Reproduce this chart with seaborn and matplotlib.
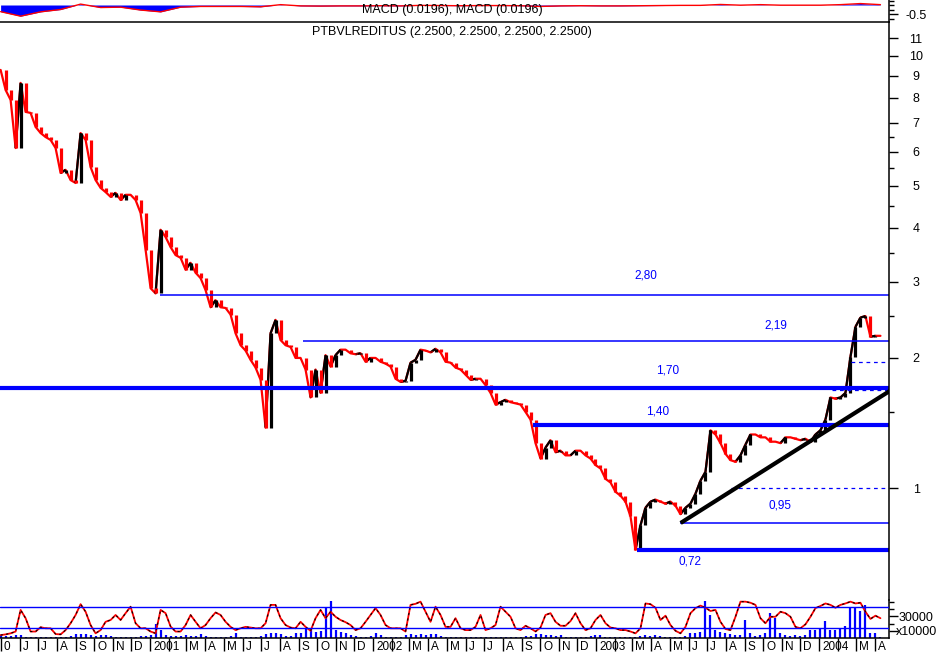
import numpy as np
import pandas as pd
import matplotlib
matplotlib.use("Agg")
import matplotlib.pyplot as plt
import matplotlib.dates as mdates
from matplotlib.collections import LineCollection
from matplotlib.ticker import NullFormatter
import seaborn as sns

# ---------------- data ----------------
ticker = "PTBVLREDITUS"
first_date, last_date = "2000-05-01", "2004-04-10"

price = [
    9.28, 8.34, 7.91, 6.12, 8.66, 7.42, 7.38, 6.85, 6.63, 6.49,
    6.39, 6.12, 5.36, 5.45, 5.16, 5.08, 6.63, 6.39, 5.53, 5.16,
    4.95, 4.84, 4.72, 4.82, 4.64, 4.77, 4.77, 4.64, 4.33, 3.56,
    2.90, 2.82, 3.96, 3.81, 3.61, 3.46, 3.41, 3.20, 3.32, 3.15,
    3.06, 2.87, 2.62, 2.72, 2.62, 2.61, 2.52, 2.28, 2.14, 2.08,
    1.98, 1.90, 1.78, 1.38, 2.28, 2.45, 2.20, 2.14, 2.12, 2.00,
    2.00, 1.88, 1.62, 1.88, 1.66, 2.03, 1.91, 2.03, 2.09, 2.09,
    2.05, 2.04, 2.05, 1.96, 2.00, 2.00, 1.96, 1.94, 1.91, 1.79,
    1.76, 1.77, 1.95, 1.98, 2.09, 2.08, 2.06, 2.10, 2.06, 1.96,
    1.95, 1.90, 1.88, 1.83, 1.78, 1.79, 1.79, 1.73, 1.66, 1.56,
    1.58, 1.60, 1.58, 1.57, 1.56, 1.50, 1.44, 1.27, 1.17, 1.24,
    1.29, 1.21, 1.22, 1.19, 1.19, 1.22, 1.22, 1.19, 1.17, 1.13,
    1.11, 1.05, 1.03, 0.98, 0.96, 0.93, 0.86, 0.72, 0.82, 0.90,
    0.93, 0.94, 0.93, 0.92, 0.93, 0.91, 0.87, 0.90, 0.92, 0.97,
    1.04, 1.09, 1.36, 1.33, 1.27, 1.20, 1.16, 1.15, 1.19, 1.26,
    1.33, 1.33, 1.31, 1.31, 1.28, 1.28, 1.27, 1.31, 1.31, 1.30,
    1.29, 1.30, 1.28, 1.33, 1.36, 1.44, 1.62, 1.61, 1.62, 1.66,
    2.01, 2.36, 2.48, 2.50, 2.24, 2.25, 2.25,
]

oscillator = [
    1, 3, 6, 11, 71, 48, 11, 11, 23, 20,
    20, 4, 3, 15, 34, 57, 87, 66, 29, 6,
    15, 38, 43, 57, 43, 62, 80, 34, 20, 20,
    11, 6, 71, 62, 25, 11, 11, 29, 57, 38,
    20, 29, 48, 64, 57, 38, 24, 15, 20, 24,
    22, 20, 20, 34, 85, 85, 48, 29, 22, 20,
    38, 24, 13, 48, 71, 48, 66, 52, 43, 37,
    29, 15, 20, 38, 57, 76, 57, 29, 20, 20,
    20, 11, 85, 88, 94, 66, 38, 80, 57, 24,
    24, 48, 20, 15, 15, 24, 57, 15, 20, 29,
    80, 66, 52, 20, 15, 27, 20, 11, 22, 57,
    62, 38, 27, 27, 40, 62, 34, 15, 20, 43,
    57, 34, 22, 20, 15, 15, 11, 6, 20, 89,
    87, 77, 43, 55, 29, 13, 6, 24, 62, 76,
    83, 77, 68, 71, 38, 18, 15, 52, 94, 94,
    91, 85, 48, 34, 52, 52, 66, 62, 52, 24,
    20, 31, 52, 76, 82, 89, 85, 77, 85, 89,
    94, 89, 91, 66, 46, 55, 48,
]

volume_k = [  # thousands of shares
    2.8, 2.8, 2.8, 4.2, 4.2, 1.4, 1.4, 1.4, 1.4, 1.4,
    1.4, 1.4, 1.4, 1.4, 2.8, 5.6, 5.6, 5.6, 4.2, 2.8,
    4.2, 4.2, 2.8, 1.4, 1.4, 1.4, 1.4, 1.4, 2.8, 2.8,
    4.2, 19.5, 11.1, 4.2, 2.8, 2.8, 2.8, 4.2, 2.8, 2.8,
    5.6, 2.8, 1.4, 1.4, 1.4, 1.4, 2.8, 7.0, 1.4, 1.4,
    1.4, 1.4, 2.8, 5.6, 7.0, 7.0, 5.6, 2.8, 2.8, 7.0,
    7.0, 13.9, 13.9, 8.3, 9.7, 43.1, 51.0, 11.1, 8.3, 7.0,
    4.2, 2.8, 1.4, 1.4, 2.8, 7.0, 4.2, 1.4, 1.4, 1.4,
    1.4, 4.2, 5.6, 4.2, 5.6, 4.2, 5.6, 5.6, 2.8, 1.4,
    1.4, 1.4, 1.4, 1.4, 1.4, 1.4, 1.4, 1.4, 1.4, 1.4,
    1.4, 1.4, 1.4, 1.4, 1.4, 2.8, 2.8, 5.6, 5.6, 4.2,
    4.2, 2.8, 4.2, 1.4, 1.4, 1.4, 1.4, 1.4, 2.8, 4.2,
    4.2, 1.4, 1.4, 1.4, 1.4, 1.4, 1.4, 1.4, 2.8, 4.2,
    2.8, 4.2, 2.8, 1.4, 1.4, 1.4, 1.4, 2.8, 7.0, 7.0,
    8.3, 51.0, 32.0, 11.1, 8.3, 7.0, 5.6, 4.2, 4.2, 25.0,
    7.0, 2.8, 4.2, 7.0, 34.8, 27.8, 7.0, 4.2, 2.8, 4.2,
    2.8, 4.2, 11.1, 11.1, 13.9, 23.6, 11.1, 11.1, 13.9, 16.7,
    41.7, 41.7, 37.5, 45.9, 7.0, 7.0, 1.4,
]

macd = [  # one value every 4th observation
    -0.37, -0.62, -0.38, -0.25, 0.05, -0.14, -0.12, -0.28, -0.38, -0.12,
    -0.08, -0.08, -0.08, -0.10, 0.02, -0.05, -0.06, -0.05, -0.05, -0.04,
    -0.05, -0.02, -0.03, -0.04, -0.03, -0.03, -0.04, -0.08, -0.05, -0.04,
    -0.05, -0.05, -0.04, -0.03, -0.02, -0.02, 0.03, -0.01, 0.02, -0.01,
    -0.01, -0.01, 0.02, 0.08, 0.0196,
]

# analyst drawing: horizontal levels (value, drawn from date, label)
level_values = [2.80, 2.19, 1.70, 1.40, 0.72, 0.83]
level_starts = ["2001-01-17", "2001-09-08", "2000-04-30", "2002-09-19", "2003-03-09", "2003-05-18"]
dashed_values = [1.00, 1.96, 1.69]
dashed_starts = ["2003-08-10", "2004-02-22", "2004-01-22"]
trend_dates = ["2003-05-19", "2004-04-26"]
trend_values = [0.83, 1.68]
label_texts = ["2,80", "2,19", "1,70", "1,40", "0,95", "0,72"]
label_dates = ["2003-03-23", "2003-10-22", "2003-04-27", "2003-04-12", "2003-10-29", "2003-06-03"]
label_values = [3.10, 2.38, 1.87, 1.50, 0.913, 0.677]

x_start, x_end = "2000-04-30", "2004-04-24"

# ---------------- styling ----------------
sns.set_theme(style="white")
plt.rcParams["font.family"] = ["Liberation Sans", "DejaVu Sans"]
BLUE, RED = "#0000ff", "#ff0000"
level_widths = [1.1, 1.1, 3.0, 3.0, 3.0, 1.1]

W, H = 936, 654
fig = plt.figure(figsize=(W / 100, H / 100), dpi=100)
fig.patch.set_facecolor("white")

def rect(top, bottom, right=889):
    return [0, 1 - bottom / H, right / W, (bottom - top) / H]

ax_macd = fig.add_axes(rect(0, 22))
ax = fig.add_axes(rect(22, 600))
ax_bot = fig.add_axes(rect(600, 638))
ax_osc = ax_bot.twinx()

dates = pd.date_range(first_date, last_date, periods=len(price))
xnum = mdates.date2num(dates)
xlim = (mdates.date2num(pd.Timestamp(x_start)), mdates.date2num(pd.Timestamp(x_end)))
d2n = lambda s: mdates.date2num(pd.Timestamp(s))

# ---------------- main price panel ----------------
price_arr = np.array(price)
sns.lineplot(x=xnum, y=price_arr, ax=ax, color=RED, lw=1.6, estimator=None, sort=False)
pts = np.column_stack([xnum, price_arr])
segs = np.stack([pts[:-1], pts[1:]], axis=1)
up = np.diff(price_arr) > 0
ax.add_collection(LineCollection(segs[up], colors="black", linewidths=1.6))
# bar-like strokes spanning each move
lo = np.minimum(price_arr[:-1], price_arr[1:])
hi = np.maximum(price_arr[:-1], price_arr[1:])
bar_cols = np.where(up, "black", RED)
ax.vlines(xnum[1:], lo, hi, colors=bar_cols, lw=2.3)
ax.set_yscale("log")

for v, s, lw in zip(level_values, level_starts, level_widths):
    ax.hlines(v, d2n(s), xlim[1], color=BLUE, lw=lw)
for v, s in zip(dashed_values, dashed_starts):
    ax.hlines(v, d2n(s), xlim[1], color=BLUE, lw=0.9, linestyles=(0, (3, 3)))
ax.plot([d2n(d) for d in trend_dates], trend_values, color="black", lw=3.0,
        solid_capstyle="butt")
for t, d, v in zip(label_texts, label_dates, label_values):
    ax.text(d2n(d), v, t, color=BLUE, fontsize=8.5, ha="center", va="center")

ax.set_xlim(*xlim)
ax.set_ylim(0.5506, 11.98)
ax.set_xticks([])
major = list(range(1, 12))
ax.set_yticks(major)
ax.set_yticklabels([str(m) for m in major])
ax.set_yticks([1.5, 2.5, 3.5, 4.5, 5.5, 6.5], minor=True)
ax.yaxis.set_minor_formatter(NullFormatter())
ax.set_ylabel("")
ax.set_xlabel("")

# ---------------- MACD panel ----------------
macd_x = xnum[::4][: len(macd)]
ax_macd.fill_between(macd_x, 0, macd, color=BLUE, lw=0)
sns.lineplot(x=macd_x, y=macd, ax=ax_macd, color=RED, lw=1.0, estimator=None, sort=False)
ax_macd.set_xlim(*xlim)
ax_macd.set_ylim(-0.944, 0.278)
ax_macd.set_xticks([])
ax_macd.set_yticks([-0.5])
ax_macd.set_yticklabels(["-0.5"])
ax_macd.set_yticks([0.25, 0.0, -0.25, -0.75], minor=True)
ax_macd.set_ylabel("")

# ---------------- bottom panel: volume + oscillator ----------------
ax_bot.vlines(xnum, 0, volume_k, color=BLUE, lw=1.6)
ax_bot.set_ylim(0, 52.8)
ax_bot.set_xlim(*xlim)
ax_bot.set_yticks([10, 30])
ax_bot.set_yticklabels(["x10000", "30000"])
ax_bot.set_yticks([20, 40, 50], minor=True)

sns.lineplot(x=xnum, y=oscillator, ax=ax_osc, color=RED, lw=1.3, estimator=None, sort=False)
ax_osc.plot(xnum, oscillator, color="black", lw=0.8, dashes=(2, 3))
ax_osc.axhline(80, color=BLUE, lw=1.0)
ax_osc.axhline(20, color=BLUE, lw=1.0)
ax_osc.set_ylim(-7, 98.6)
ax_osc.set_yticks([])
ax_osc.set_ylabel("")
for sp in ax_osc.spines.values():
    sp.set_visible(False)

months = pd.date_range("2000-05-01", "2004-04-01", freq="MS")
month_labels = []
for m in months:
    if m.month == 1:
        month_labels.append(str(m.year))
    elif m.month == 2:
        month_labels.append("")
    else:
        month_labels.append(m.strftime("%b")[0])
month_labels[0] = "0"
ax_bot.set_xticks(mdates.date2num(months))
ax_bot.tick_params(axis="x", which="major", direction="out", length=9, width=1.0,
                   bottom=True, labelbottom=False, color="black")
for m, lab in zip(months, month_labels):
    ax_bot.annotate(lab, xy=(mdates.date2num(m), 0), xycoords=("data", "axes fraction"),
                    xytext=(3, -9), textcoords="offset pixels", ha="left", va="center",
                    fontsize=8.5, color="black")

# ---------------- common axis styling ----------------
for a in (ax, ax_macd, ax_bot):
    a.set_facecolor("none")
    a.yaxis.tick_right()
    a.tick_params(axis="y", which="major", direction="out", length=6.5, width=1.0,
                  right=True, left=False, labelright=True, labelleft=False,
                  pad=13, labelsize=9, color="black", labelcolor="black")
    a.tick_params(axis="y", which="minor", direction="out", length=3.6, width=1.0,
                  right=True, left=False, color="black")
    for lab in a.get_yticklabels():
        lab.set_horizontalalignment("center")
    for side in ("left", "top", "bottom", "right"):
        a.spines[side].set_visible(False)
    a.spines["right"].set_visible(True)
    a.spines["right"].set_color("black")
    a.spines["right"].set_linewidth(1.1)
    a.grid(False)

ax.spines["top"].set_visible(True)
ax.spines["top"].set_color("black")
ax.spines["top"].set_linewidth(1.1)
ax_bot.spines["bottom"].set_visible(True)
ax_bot.spines["bottom"].set_color("black")
ax_bot.spines["bottom"].set_linewidth(1.1)
ax_bot.set_zorder(1)
ax_osc.set_zorder(2)
ax_macd.set_zorder(3)
ax.set_zorder(4)

last = price[-1]
fig.text(452 / W, 1 - 32 / H, f"{ticker} ({last:.4f}, {last:.4f}, {last:.4f}, {last:.4f})",
         ha="center", va="center", fontsize=9, color="black")
fig.text(452 / W, 1 - 10 / H, f"MACD ({macd[-1]:.4f}), MACD ({macd[-1]:.4f})",
         ha="center", va="center", fontsize=9, color="black")

fig.savefig("out.png", dpi=100)
